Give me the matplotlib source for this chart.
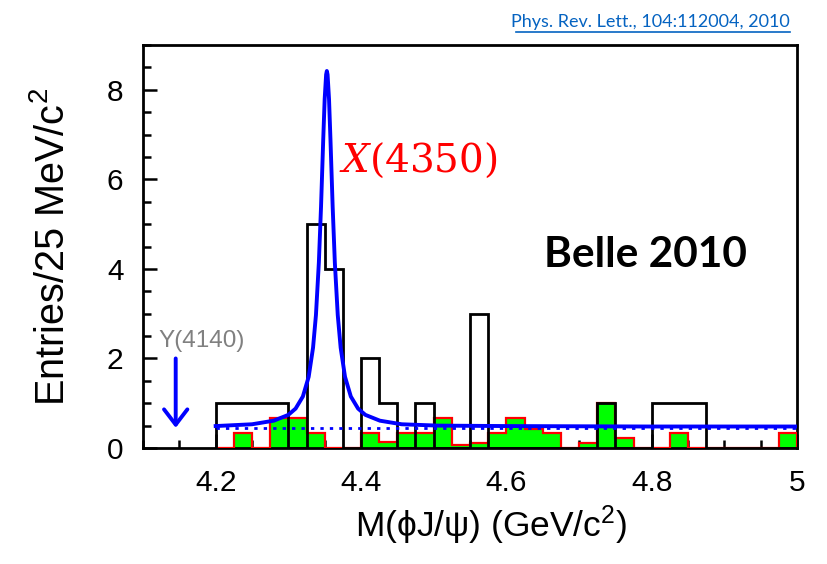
import numpy as np
import matplotlib
matplotlib.use("Agg")
import matplotlib.pyplot as plt
from matplotlib.lines import Line2D
from matplotlib.ticker import MultipleLocator

plt.rcParams['font.family'] = ['Liberation Sans', 'DejaVu Sans']
plt.rcParams['mathtext.fontset'] = 'custom'
plt.rcParams['mathtext.rm'] = 'Liberation Sans'
plt.rcParams['mathtext.it'] = 'Liberation Sans:italic'

# ---------------- data ----------------
bin_low = 4.2
bin_width = 0.025
# data entries per 25 MeV bin (4.200 ... 4.975)
data_counts = [1, 1, 1, 1, 0, 5, 4, 0,
               2, 1, 0, 1, 0, 0, 3, 0,
               0, 0, 0, 0, 0, 1, 0, 0,
               1, 1, 1, 0, 0, 0, 0, 0]
# scaled sideband background (green)
sideband = [0.00, 0.33, 0.00, 0.66, 0.66, 0.33, 0.00, 0.00,
            0.33, 0.13, 0.33, 0.33, 0.66, 0.07, 0.12, 0.33,
            0.66, 0.42, 0.33, 0.00, 0.12, 1.00, 0.22, 0.00,
            0.00, 0.33, 0.00, 0.00, 0.00, 0.00, 0.00, 0.33]
# fit curve
fit_x = [4.200, 4.250, 4.280, 4.300, 4.310, 4.320, 4.328, 4.334, 4.338,
         4.342, 4.345, 4.348, 4.350, 4.352, 4.353, 4.354, 4.356, 4.358,
         4.361, 4.364, 4.368, 4.372, 4.378, 4.386, 4.396, 4.406, 4.426,
         4.456, 4.506, 4.600, 4.800, 5.000]
fit_y = [0.49, 0.53, 0.61, 0.74, 0.88, 1.15, 1.59, 2.24, 2.97,
         4.14, 5.39, 6.88, 7.79, 8.34, 8.42, 8.34, 7.79, 6.88,
         5.39, 4.14, 2.97, 2.24, 1.59, 1.15, 0.88, 0.74, 0.61,
         0.53, 0.50, 0.49, 0.48, 0.48]
bkg_x = [4.2, 5.0]
bkg_y = [0.44, 0.44]
y4140_mass = 4.145

edges = np.round(bin_low + bin_width * np.arange(len(data_counts) + 1), 3)

# ---------------- figure ----------------
fig = plt.figure(figsize=(8.28, 5.64), dpi=100)
ax = fig.add_axes([143/828, 1-448/564, (797-143)/828, (448-45)/564])

ax.stairs(sideband, edges, fill=True, color='#00ff00', zorder=2)
ax.stairs(sideband, edges, color='#ff0000', linewidth=1.6, zorder=3)
ax.stairs(data_counts, edges, color='black', linewidth=2.0, zorder=4)
ax.plot(bkg_x, bkg_y, color='#0000ff', linewidth=2.0,
        linestyle=(0, (1.2, 2.2)), zorder=5)
ax.plot(fit_x, fit_y, color='#0000ff', linewidth=2.8, zorder=6,
        solid_joinstyle='round')

ax.set_xlim(4.1, 5.0)
ax.set_ylim(0, 9)
ax.xaxis.set_minor_locator(MultipleLocator(0.05))
ax.yaxis.set_major_locator(MultipleLocator(2))
ax.yaxis.set_minor_locator(MultipleLocator(0.5))
ax.set_xticks([4.2, 4.4, 4.6, 4.8, 5.0])
ax.set_xticklabels(['4.2', '4.4', '4.6', '4.8', '5'])
ax.tick_params(which='both', direction='in', top=False, right=False,
               width=1.8, labelsize=21.5)
ax.tick_params(which='major', length=10)
ax.tick_params(which='minor', length=5.5)
ax.tick_params(axis='x', pad=15)
ax.tick_params(axis='y', pad=14)
for s in ax.spines.values():
    s.set_linewidth(2.0)

ax.set_ylabel('Entries/25 MeV/c$^2$', fontsize=28.5)
ax.yaxis.set_label_coords(-0.108, 0.5)
ax.set_xlabel('M(\u03d5J/\u03c8) (GeV/c$^2$)', fontsize=25.5)
ax.xaxis.set_label_coords(0.532, -0.137)

# annotations
ax.text(4.3697, 6.17, r'$X(4350)$', color='#ff0000', fontsize=28,
        math_fontfamily='dejavuserif', ha='left', va='baseline')
ax.text(4.6524, 4.31, 'Belle 2010', family='Lato', fontweight='bold',
        fontsize=30.5, color='black', ha='left', va='center')
ax.text(4.121, 2.26, 'Y(4140)', color='#808080', fontsize=17.5,
        ha='left', va='baseline')
ax.annotate('', xy=(y4140_mass, 0.45), xytext=(y4140_mass, 2.0),
            arrowprops=dict(arrowstyle='->,head_length=0.55,head_width=0.42',
                            mutation_scale=20, color='#0000ff', lw=2.8,
                            shrinkA=0, shrinkB=0))

# reference link
link_color = '#0563c1'
fig.text(790/828, 1-26.7/564, 'Phys. Rev. Lett., 104:112004, 2010',
         family='Lato', fontsize=13, color=link_color,
         ha='right', va='baseline')
fig.add_artist(Line2D([516/828, 790/828], [1-32/564, 1-32/564],
                      color=link_color, linewidth=1.2,
                      transform=fig.transFigure))

fig.savefig('out.png', dpi=100)
